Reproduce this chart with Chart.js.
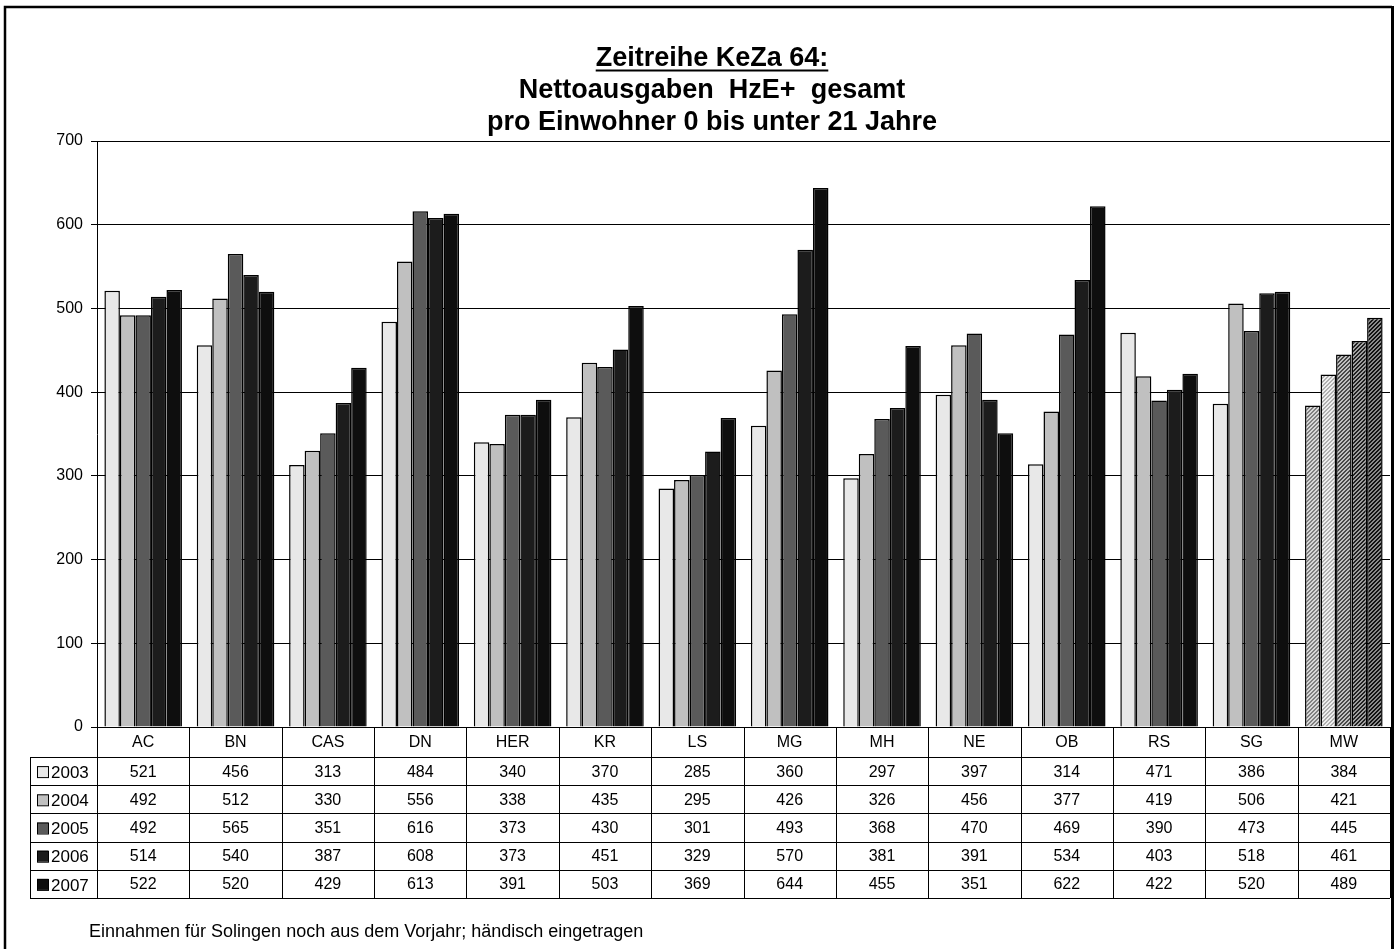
<!DOCTYPE html>
<html>
<head>
<meta charset="utf-8">
<script src="https://cdn.jsdelivr.net/npm/chart.js@4/dist/chart.umd.min.js"></script>
<style>
  html, body { margin: 0; padding: 0; background: #fff; }
  #wrap { width: 1399px; height: 949px; position: relative; }
</style>
</head>
<body>
<div id="wrap"><canvas id="chart" width="1399" height="949"></canvas></div>
<script>
// Daten
const categories = ["AC", "BN", "CAS", "DN", "HER", "KR", "LS", "MG", "MH", "NE", "OB", "RS", "SG", "MW"];
const years = ["2003", "2004", "2005", "2006", "2007"];
const v2003 = [521, 456, 313, 484, 340, 370, 285, 360, 297, 397, 314, 471, 386, 384];
const v2004 = [492, 512, 330, 556, 338, 435, 295, 426, 326, 456, 377, 419, 506, 421];
const v2005 = [492, 565, 351, 616, 373, 430, 301, 493, 368, 470, 469, 390, 473, 445];
const v2006 = [514, 540, 387, 608, 373, 451, 329, 570, 381, 391, 534, 403, 518, 461];
const v2007 = [522, 520, 429, 613, 391, 503, 369, 644, 455, 351, 622, 422, 520, 489];
const titleLines = ["Zeitreihe KeZa 64:", "Nettoausgaben  HzE+  gesamt", "pro Einwohner 0 bis unter 21 Jahre"];
const footnote = "Einnahmen für Solingen noch aus dem Vorjahr; händisch eingetragen";

const colors = ["#e8e8e8", "#c0c0c0", "#5a5a5a", "#1c1c1c", "#0e0e0e"];
const hatchBase = ["#d8d8d8", "#f0f0f0", "#c0c0c0", "#a0a0a0", "#888888"];
const hatchLine = ["#808080", "#b0b0b0", "#484848", "#202020", "#101010"];

const FONT = "Arial, 'Liberation Sans', sans-serif";

// schraffiertes Muster fuer MW
function makeHatch(base, line) {
  const c = document.createElement("canvas");
  c.width = 4;
  c.height = 4;
  const g = c.getContext("2d");
  g.fillStyle = base;
  g.fillRect(0, 0, 4, 4);
  g.fillStyle = line;
  for (let i = 0; i < 4; i++) {
    g.fillRect(i, 3 - i, 1, 1);
    g.fillRect((i + 1) % 4, 3 - i, 1, 1);
  }
  return g.createPattern(c, "repeat");
}

const allValues = [v2003, v2004, v2005, v2006, v2007];
const datasets = years.map((y, k) => {
  const bg = categories.map((c, i) => (i === categories.length - 1 ? makeHatch(hatchBase[k], hatchLine[k]) : colors[k]));
  return {
    label: y,
    data: allValues[k],
    backgroundColor: bg,
    borderColor: "#000",
    borderWidth: 1.5,
    categoryPercentage: 0.84,
    barPercentage: 1.0,
  };
});

// Rahmen, Titel, Datentabelle
const decor = {
  id: "decor",
  beforeDraw(chart) {
    const ctx = chart.ctx;
    ctx.save();
    ctx.fillStyle = "#fff";
    ctx.fillRect(0, 0, chart.width, chart.height);
    ctx.restore();
  },
  afterDraw(chart) {
    const ctx = chart.ctx;
    const area = chart.chartArea;
    const x = chart.scales.x;
    ctx.save();

    // Rahmen (unten offen)
    ctx.strokeStyle = "#000";
    ctx.lineWidth = 2.5;
    ctx.beginPath();
    ctx.moveTo(5, 949);
    ctx.lineTo(5, 7);
    ctx.lineTo(1392, 7);
    ctx.stroke();
    ctx.lineWidth = 3;
    ctx.beginPath();
    ctx.moveTo(1392.5, 6);
    ctx.lineTo(1392.5, 949);
    ctx.stroke();

    // Titel
    ctx.fillStyle = "#000";
    ctx.textAlign = "center";
    ctx.textBaseline = "alphabetic";
    ctx.font = "bold 27px " + FONT;
    const cx = 712;
    const base = [66, 98, 130];
    titleLines.forEach((t, i) => ctx.fillText(t, cx, base[i]));
    const w = ctx.measureText(titleLines[0]).width;
    ctx.lineWidth = 2;
    ctx.beginPath();
    ctx.moveTo(cx - w / 2, 70.5);
    ctx.lineTo(cx + w / 2, 70.5);
    ctx.stroke();

    // Tabelle
    const top = area.bottom;
    const headH = 30;
    const rowH = 28.2;
    const legL = 30;
    const n = categories.length;
    const cw = x.width / n;
    const bottom = top + headH + rowH * years.length;
    ctx.lineWidth = 1;
    ctx.strokeStyle = "#000";
    ctx.beginPath();
    for (let i = 0; i <= n; i++) {
      const lx = Math.round(area.left + cw * i) + 0.5;
      ctx.moveTo(lx, top);
      ctx.lineTo(lx, bottom);
    }
    ctx.moveTo(legL + 0.5, top + headH);
    ctx.lineTo(legL + 0.5, bottom);
    for (let r = 0; r <= years.length; r++) {
      const ly = Math.round(top + headH + rowH * r) + 0.5;
      ctx.moveTo(legL, ly);
      ctx.lineTo(area.right, ly);
    }
    ctx.stroke();

    ctx.font = "16px " + FONT;
    ctx.textBaseline = "middle";
    ctx.textAlign = "center";
    categories.forEach((c, i) => {
      const px = x.getPixelForValue(i);
      ctx.fillText(c, px, top + headH / 2 + 1);
      years.forEach((y, k) => {
        ctx.fillText(String(allValues[k][i]), px, top + headH + rowH * k + rowH / 2 + 1);
      });
    });

    // Legende in der Tabelle
    ctx.textAlign = "left";
    years.forEach((y, k) => {
      const cy = top + headH + rowH * k + rowH / 2 + 1;
      ctx.fillStyle = colors[k];
      ctx.fillRect(37, cy - 6, 11, 11);
      ctx.strokeStyle = "#000";
      ctx.strokeRect(37.5, cy - 5.5, 11, 11);
      ctx.fillStyle = "#000";
      ctx.font = "17px " + FONT;
      ctx.fillText(y, 51, cy + 1);
    });

    // Fussnote
    ctx.font = "18px " + FONT;
    ctx.textBaseline = "alphabetic";
    ctx.fillText(footnote, 89, 937);
    ctx.restore();
  },
};

const ctx = document.getElementById("chart").getContext("2d");
const chart = new Chart(ctx, {
  type: "bar",
  data: { labels: categories, datasets: datasets },
  options: {
    responsive: false,
    animation: false,
    layout: { padding: { left: 30, top: 141, right: 9, bottom: 222 } },
    plugins: {
      legend: { display: false },
      title: { display: false },
      tooltip: { enabled: false },
    },
    scales: {
      x: {
        display: false,
        grid: { display: false },
      },
      y: {
        min: 0,
        max: 700,
        afterFit(scale) {
          scale.width = 67;
        },
        ticks: {
          stepSize: 100,
          color: "#000",
          padding: 8,
          font: { family: FONT, size: 16 },
        },
        grid: {
          color: "#000",
          lineWidth: 1,
          tickLength: 6,
        },
        border: { color: "#000", width: 1 },
      },
    },
  },
  plugins: [decor],
});
</script>
</body>
</html>
